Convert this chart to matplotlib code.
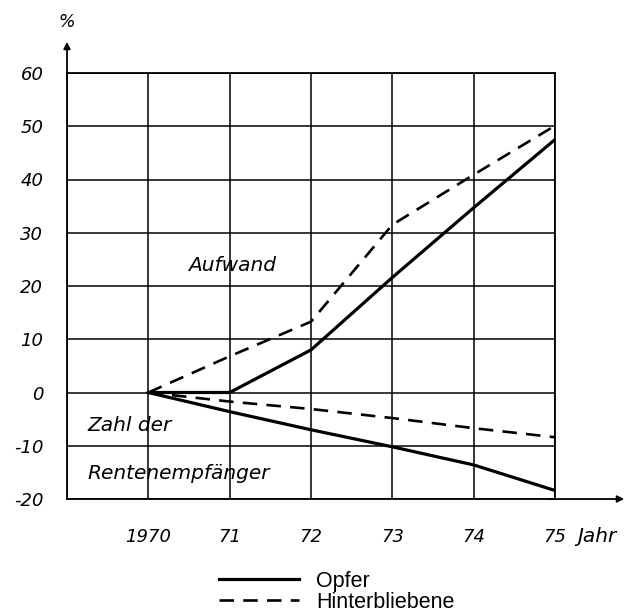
import matplotlib
matplotlib.use("Agg")
import matplotlib.pyplot as plt

years = [1970, 1971, 1972, 1973, 1974, 1975]
xtick_labels = ["1970", "71", "72", "73", "74", "75"]
yticks = [-20, -10, 0, 10, 20, 30, 40, 50, 60]

aufwand_opfer = [0, 0, 8, 21.6, 34.7, 47.5]
aufwand_hinterbliebene = [0, 6.8, 13.3, 31.5, 40.9, 50.1]
zahl_opfer = [0, -3.6, -7, -10.2, -13.6, -18.4]
zahl_hinterbliebene = [0, -1.7, -3.1, -4.8, -6.7, -8.4]

fig = plt.figure(figsize=(6.29, 6.15), dpi=100)
W, H = 629, 615
left, right, top, bottom = 67, 555, 73, 499
ax = fig.add_axes([left / W, 1 - bottom / H, (right - left) / W, (bottom - top) / H])

ax.set_xlim(1969, 1975)
ax.set_ylim(-20, 60)
ax.set_xticks([1969] + years)
ax.set_xticklabels([""] + xtick_labels)
ax.set_yticks(yticks)
ax.set_yticklabels([str(v) for v in yticks])
ax.grid(True, color="black", linewidth=1.1)
ax.set_axisbelow(True)
for s in ax.spines.values():
    s.set_linewidth(1.3)
ax.tick_params(axis="both", length=0, labelsize=13)
ax.tick_params(axis="x", pad=21)
ax.tick_params(axis="y", pad=17)
for lab in ax.get_xticklabels() + ax.get_yticklabels():
    lab.set_fontstyle("italic")
    lab.set_family("DejaVu Sans")

l1, = ax.plot(years, aufwand_opfer, color="black", lw=2.3)
l2, = ax.plot(years, aufwand_hinterbliebene, color="black", lw=1.9, dashes=(5.5, 3.5))
ax.plot(years, zahl_opfer, color="black", lw=2.3)
ax.plot(years, zahl_hinterbliebene, color="black", lw=1.9, dashes=(5.5, 3.5))

# axis arrows
ax.annotate("", xy=(0, (bottom - 39) / (bottom - top)), xytext=(0, 0.98),
            xycoords="axes fraction",
            arrowprops=dict(arrowstyle="-|>", color="black", lw=1.3, mutation_scale=10),
            annotation_clip=False)
ax.annotate("", xy=((627 - left) / (right - left), 0), xytext=(0.98, 0),
            xycoords="axes fraction",
            arrowprops=dict(arrowstyle="-|>", color="black", lw=1.3, mutation_scale=10),
            annotation_clip=False)
ax.text(0.0, (bottom - 22) / (bottom - top), "%", transform=ax.transAxes,
        ha="center", va="center", fontsize=12.5, style="italic")
ax.text(1975.27, -(537 - bottom) / (bottom - top), "Jahr",
        transform=ax.get_xaxis_transform(), ha="left", va="center",
        fontsize=14.5, style="italic")

ax.text(1970.49, 23.9, "Aufwand", fontsize=14.5, style="italic", va="center")
ax.text(1969.25, -6.2, "Zahl der", fontsize=14.5, style="italic", va="center")
ax.text(1969.25, -15.2, "Rentenempfänger", fontsize=14.5, style="italic", va="center")

leg = fig.legend([l1, l2], ["Opfer", "Hinterbliebene"], loc="lower left",
                 bbox_to_anchor=(219 / W, 2 / H), frameon=False,
                 borderaxespad=0, borderpad=0,
                 handlelength=3.7, handletextpad=0.8, labelspacing=0.0,
                 prop={"family": "Liberation Sans", "size": 15.5})

fig.savefig("out.png", dpi=100)
